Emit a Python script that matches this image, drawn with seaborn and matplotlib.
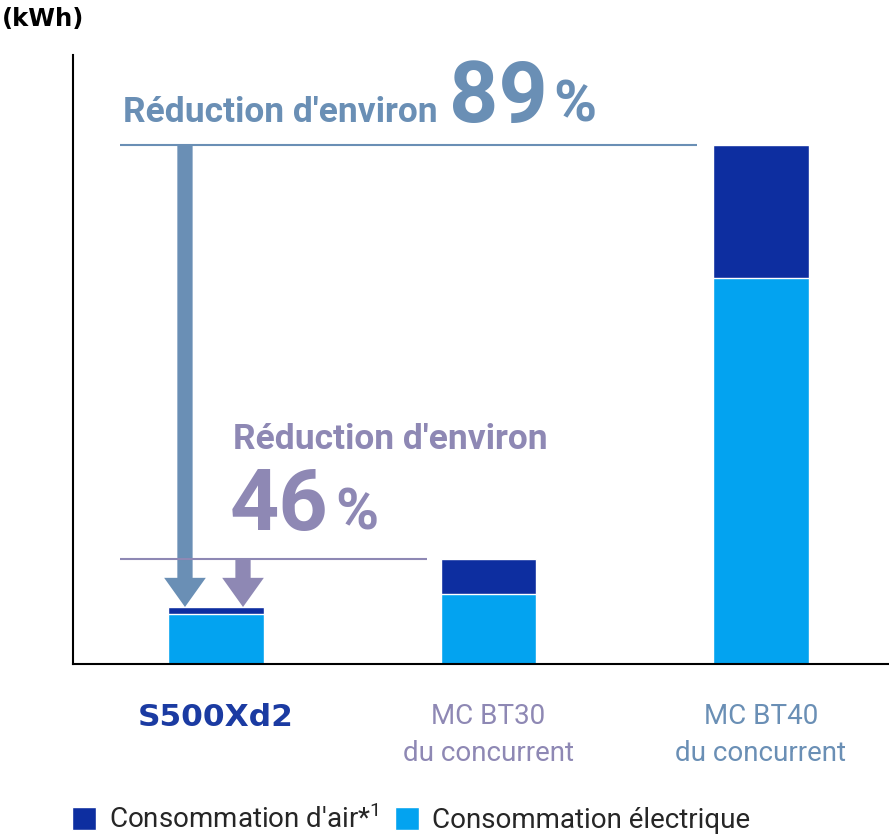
import matplotlib as mpl
mpl.use("Agg")
import matplotlib.pyplot as plt
from matplotlib.patches import FancyArrowPatch, Patch
import seaborn as sns

categories = ["S500Xd2", "MC BT30\ndu concurrent", "MC BT40\ndu concurrent"]
electric = [50, 70, 386]
air = [7, 35, 133]
legend_labels = ["Consommation d'air*$^{1}$", "Consommation électrique"]

DARK = "#0d2ea0"
LIGHT = "#03a3f0"
STEEL = "#6a8fb5"
LAVENDER = "#8e88b4"

sns.set_theme(style="white")
plt.rcParams["font.family"] = ["Roboto", "DejaVu Sans"]
plt.rcParams["mathtext.fontset"] = "custom"
plt.rcParams["mathtext.rm"] = "Roboto"

W, H = 889, 834
fig = plt.figure(figsize=(W / 100, H / 100), dpi=100)
ax = fig.add_axes([73 / W, (H - 664) / H, (W - 73) / W, (664 - 55) / H])


def fx(px):
    return px / W


def fy(py):
    return 1 - py / H


totals = [e + a for e, a in zip(electric, air)]
sns.barplot(x=categories, y=totals, color=DARK, saturation=1, width=0.352, ax=ax)
sns.barplot(x=categories, y=electric, color=LIGHT, saturation=1, width=0.352, ax=ax)

ax.set_xlim(-0.525, 2.47)
ax.set_ylim(0, 609)
ax.set_yticks([])
for side in ["top", "right"]:
    ax.spines[side].set_visible(False)
for side in ["left", "bottom"]:
    ax.spines[side].set_color("black")
    ax.spines[side].set_linewidth(1.5)
ax.tick_params(axis="x", length=0, pad=28)
labels = ax.get_xticklabels()
label_colors = ["#1b3ba2", LAVENDER, STEEL]
for lab, c in zip(labels, label_colors):
    lab.set_color(c)
    lab.set_fontsize(20)
    lab.set_linespacing(1.5)
labels[0].set_family("DejaVu Sans")
labels[0].set_fontweight("bold")
labels[0].set_fontsize(22.5)

# reduction guide lines at the competitor totals
ax.plot([-0.352, 1.765], [totals[2], totals[2]], color=STEEL, lw=1.5, solid_capstyle="butt")
ax.plot([-0.352, 0.774], [totals[1], totals[1]], color=LAVENDER, lw=1.5, solid_capstyle="butt")

style = "simple,head_length=21,head_width=30,tail_width=11"
ax.add_patch(FancyArrowPatch((-0.114, totals[2]), (-0.114, totals[0]), arrowstyle=style,
                             color=STEEL, lw=0, shrinkA=0, shrinkB=0))
ax.add_patch(FancyArrowPatch((0.099, totals[1]), (0.099, totals[0]), arrowstyle=style,
                             color=LAVENDER, lw=0, shrinkA=0, shrinkB=0))

fig.text(fx(123), fy(122), "Réduction d'environ", color=STEEL, fontsize=25.5, fontweight="bold", va="baseline")
fig.text(fx(449), fy(122), "89", color=STEEL, fontsize=62, fontweight="bold", va="baseline")
fig.text(fx(553), fy(122), "%", color=STEEL, fontsize=42, fontweight="bold", va="baseline")

fig.text(fx(233), fy(449), "Réduction d'environ", color=LAVENDER, fontsize=25.5, fontweight="bold", va="baseline")
fig.text(fx(230), fy(530), "46", color=LAVENDER, fontsize=62, fontweight="bold", va="baseline")
fig.text(fx(335), fy(530), "%", color=LAVENDER, fontsize=42, fontweight="bold", va="baseline")

fig.text(fx(2), fy(26), "(kWh)", color="black", fontsize=17.5, fontweight="bold",
         family="DejaVu Sans", va="baseline")

handles = [Patch(facecolor=DARK), Patch(facecolor=LIGHT)]
fig.legend(handles, legend_labels, ncol=2, loc="lower left", bbox_to_anchor=(fx(72), fy(834)),
           frameon=False, fontsize=20, handlelength=0.87, handleheight=0.9,
           handletextpad=0.45, columnspacing=0.6, borderaxespad=0, borderpad=0)

fig.savefig("out.png", dpi=100)
